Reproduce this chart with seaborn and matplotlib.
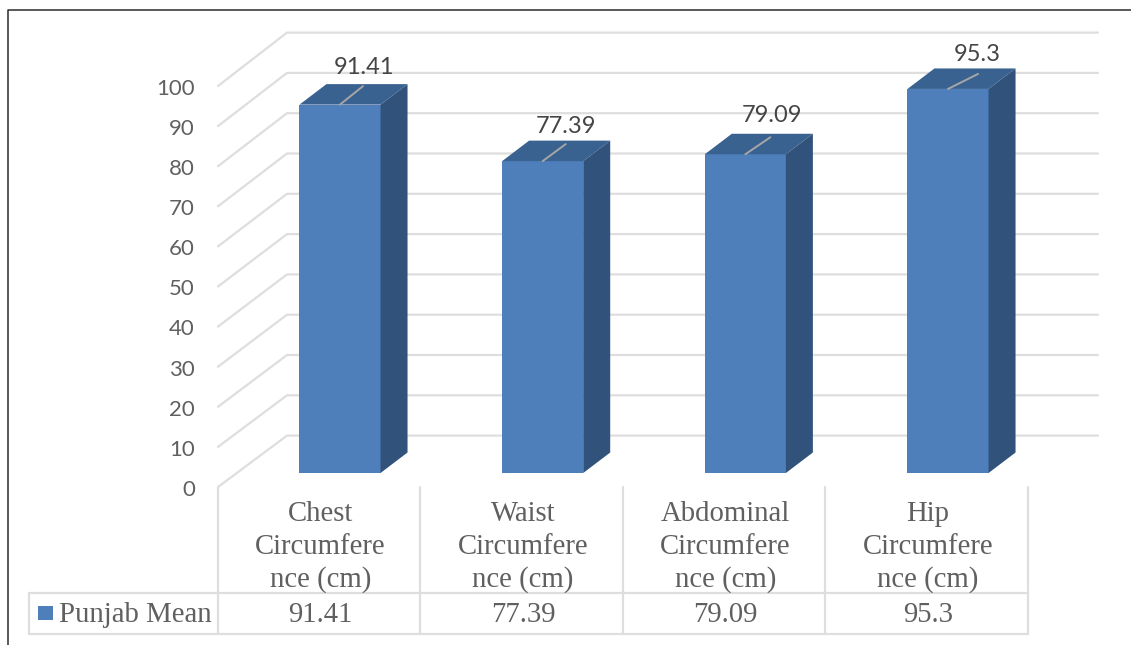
import matplotlib
matplotlib.use("Agg")
import matplotlib.pyplot as plt
from matplotlib.patches import Polygon, Rectangle
from matplotlib.lines import Line2D
import seaborn as sns

# Chart data
categories = ["Chest\nCircumfere\nnce (cm)", "Waist\nCircumfere\nnce (cm)",
              "Abdominal\nCircumfere\nnce (cm)", "Hip\nCircumfere\nnce (cm)"]
series_name = "Punjab Mean"
values = [91.41, 77.39, 79.09, 95.3]
value_labels = ["91.41", "77.39", "79.09", "95.3"]
y_ticks = list(range(0, 101, 10))

W, H = 1131, 645
FRONT, TOP, SIDE = "#4E7FBB", "#3A6291", "#31527B"
GRID, TEXT = "#DEDEDE", "#606060"
SERIF = "Liberation Serif"
TICK_FONT = "Lato"

sns.set_theme(style="white")
fig = plt.figure(figsize=(W / 100, H / 100), dpi=100, facecolor="white")


def fx(px):
    return px / W


def fy(py):
    return 1 - py / H


# Plot area: one category step is 202.67 px, one y unit is 4.03 px
step, unit = 202.67, 4.03
left, base = 340 - step / 2, 473
ax = fig.add_axes([fx(left), fy(base), 4 * step / W, 100 * unit / H])

sns.barplot(x=categories, y=values, color=FRONT, saturation=1, width=0.4, ax=ax,
            zorder=3, linewidth=0, edgecolor="none")
ax.set_xlim(-0.5, 3.5)
ax.set_ylim(0, 100)
ax.axis("off")

# Depth of the bars and of the floor, in data units
bar_dx, bar_dy = 27 / step, 20.5 / unit


def dx(px):
    return (px - left) / step - 0.5


# Gridlines folded along the side wall and the back wall
for t in y_ticks:
    front_y = t * 401 / 403 - 14 / unit
    back_y = t + 37.4 / unit
    ax.add_line(Line2D([dx(218), dx(287), dx(1098)], [front_y, back_y, back_y],
                       color=GRID, lw=1.6, zorder=1, clip_on=False))
    ax.text(dx(195), front_y - 0.7, str(t), ha="right", va="center", fontsize=16,
            color=TEXT, family=TICK_FONT)

# Top and side faces of each bar, plus leader lines and value labels
label_dx = [23, 23, 25, 30]
label_rise = [18.5, 17, 17, 15]
label_text_x = [364, 566, 772, 977]
label_text_gap = [37.5, 35, 39, 34.5]
for i, bar in enumerate(ax.patches):
    x0, x1, h = bar.get_x(), bar.get_x() + bar.get_width(), bar.get_height()
    ax.add_patch(Polygon([(x0, h), (x1, h), (x1 + bar_dx, h + bar_dy), (x0 + bar_dx, h + bar_dy)],
                         closed=True, fc=TOP, ec="none", zorder=3, clip_on=False))
    ax.add_patch(Polygon([(x1, 0), (x1 + bar_dx, bar_dy), (x1 + bar_dx, h + bar_dy), (x1, h)],
                         closed=True, fc=SIDE, ec="none", zorder=3, clip_on=False))
    cx = i
    ax.add_line(Line2D([cx, cx + label_dx[i] / step], [h, h + label_rise[i] / unit],
                       color="#A6A6A6", lw=1.4, zorder=4, clip_on=False))
    ax.text(dx(label_text_x[i]), h + label_text_gap[i] / unit, value_labels[i], ha="center",
            va="center", fontsize=17, color="#454545", family=TICK_FONT, zorder=5)


def fig_line(xs, ys, color=GRID, lw=1.6):
    fig.add_artist(Line2D([fx(x) for x in xs], [fy(y) for y in ys], color=color, lw=lw))


# Data table below the plot
col_edges = [218, 420, 623, 825, 1028]
fig_line([29, 1028], [592.5, 592.5])
fig_line([29, 1028], [634, 634])
fig_line([29, 29], [592.5, 634])
for edge in col_edges:
    fig_line([edge, edge], [487, 634])

for i, edge in enumerate(col_edges[:-1]):
    cx = (edge + col_edges[i + 1]) / 2 + 1.5
    for j, line in enumerate(categories[i].split("\n")):
        fig.text(fx(cx), fy(514 + 33 * j), line, ha="center", va="center", fontsize=20.7,
                 family=SERIF, color=TEXT)
    fig.text(fx(cx), fy(615), value_labels[i], ha="center", va="center", fontsize=20.7,
             family=SERIF, color=TEXT)

fig.add_artist(Rectangle((fx(38), fy(620)), 15 / W, 14 / H, transform=fig.transFigure,
                         fc=FRONT, ec="none"))
fig.text(fx(59), fy(615), series_name, ha="left", va="center", fontsize=20.7,
         family=SERIF, color=TEXT)

# Outer frame: top and left edges only
fig_line([7.5, 7.5, W], [H, 10, 10], color="#2B2B2B", lw=1.1)

fig.savefig("out.png", dpi=100)
